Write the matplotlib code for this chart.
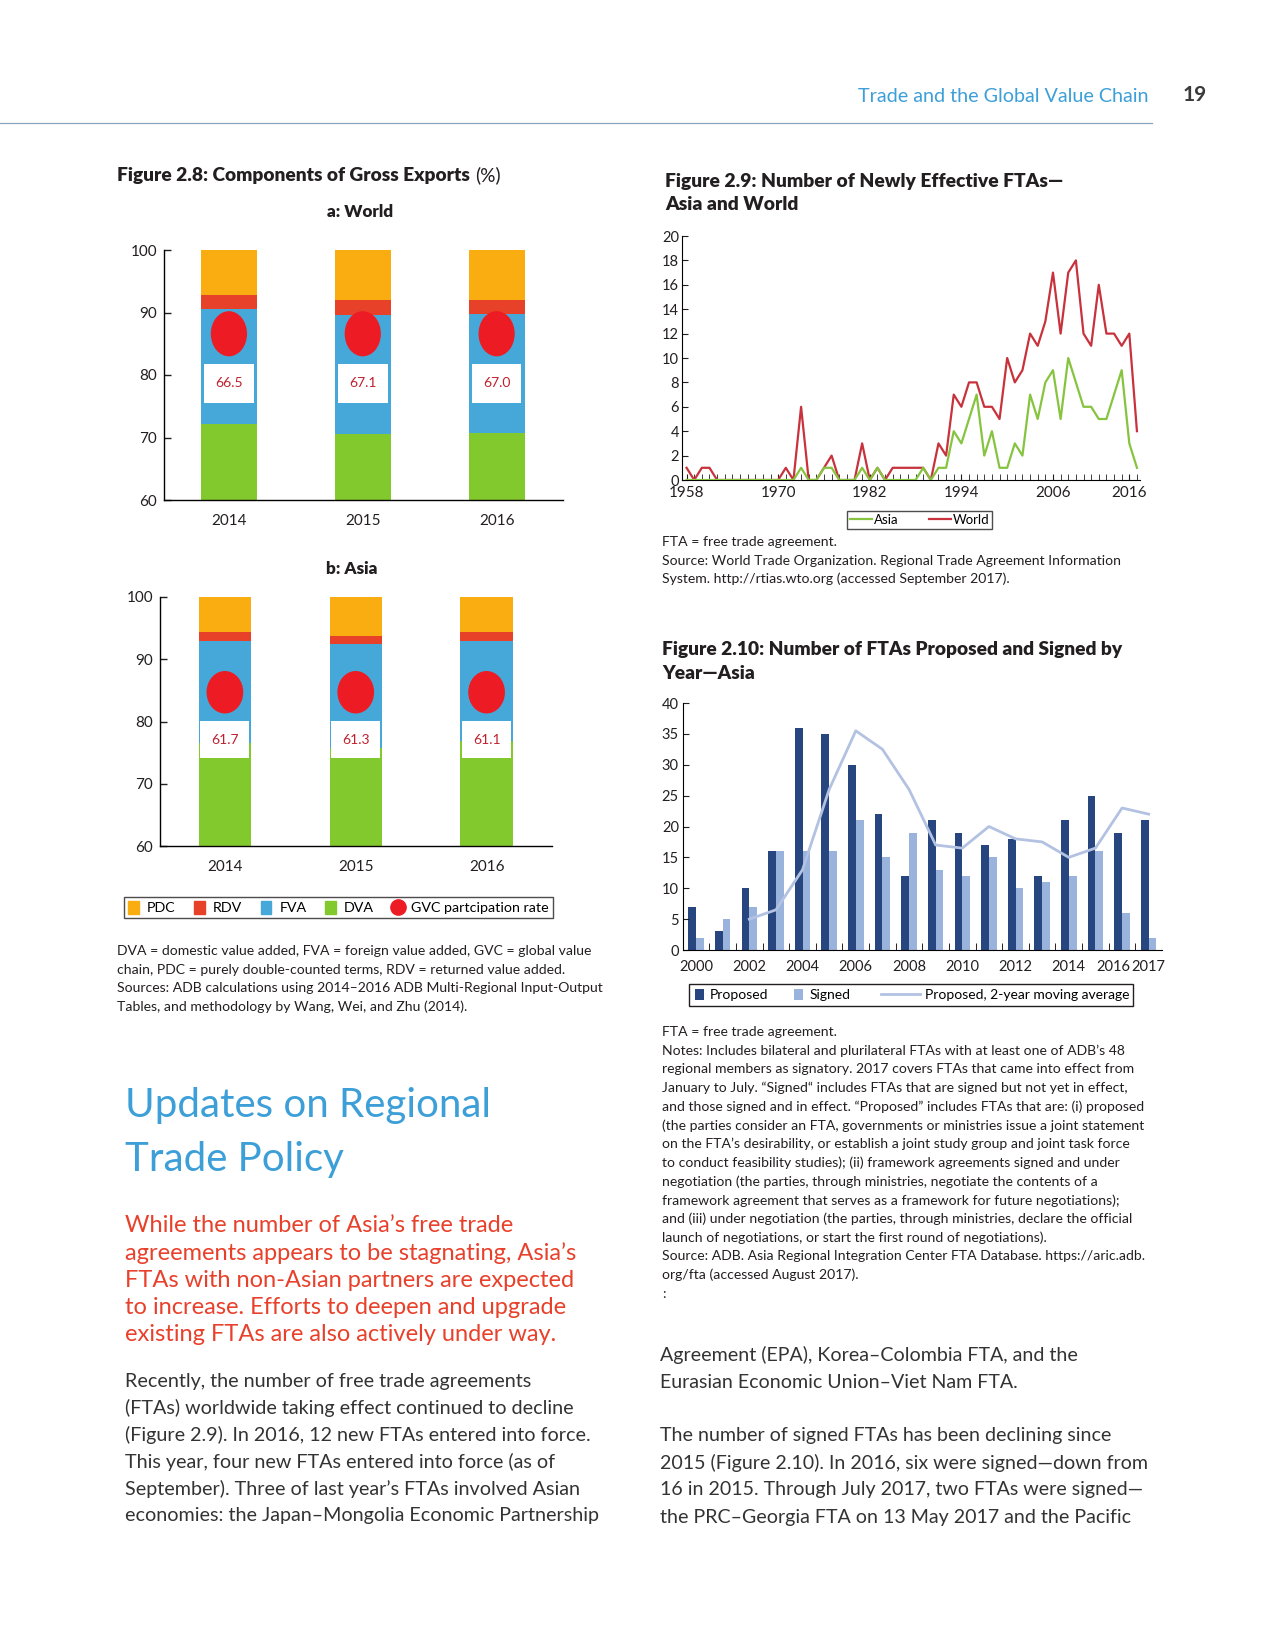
import matplotlib
matplotlib.use("Agg")
import matplotlib.pyplot as plt
from matplotlib.patches import Rectangle, Ellipse, Patch
from matplotlib.lines import Line2D
from matplotlib.transforms import ScaledTranslation

plt.rcParams['font.family'] = ['Lato', 'DejaVu Sans']

# ---- Figure 2.8 data (percent of gross exports) ----
gx_years = ['2014', '2015', '2016']
world_dva = [72.2, 70.6, 70.7]
world_fva = [18.4, 19.0, 19.1]
world_rdv = [2.2, 2.4, 2.2]
world_pdc = [7.2, 8.0, 8.0]
world_gvc = ['66.5', '67.1', '67.0']

asia_dva = [76.6, 75.8, 76.8]
asia_fva = [16.4, 16.7, 16.2]
asia_rdv = [1.3, 1.3, 1.3]
asia_pdc = [5.7, 6.2, 5.7]
asia_gvc = ['61.7', '61.3', '61.1']

# ---- Figure 2.9 data (newly effective FTAs) ----
fta_years = list(range(1958, 2018))
fta_world = [1, 0, 1, 1, 0, 0, 0, 0, 0, 0, 0, 0,
             0, 1, 0, 6, 0, 0, 1, 2, 0, 0,
             0, 3, 0, 1, 0, 1, 1, 1, 1, 1,
             0, 3, 2, 7, 6, 8, 8, 6, 6, 5,
             10, 8, 9, 12, 11, 13, 17, 12, 17, 18,
             12, 11, 16, 12, 12, 11, 12, 4]
fta_asia = [0, 0, 0, 0, 0, 0, 0, 0, 0, 0, 0, 0,
            0, 0, 0, 1, 0, 0, 1, 1, 0, 0,
            0, 1, 0, 1, 0, 0, 0, 0, 0, 1,
            0, 1, 1, 4, 3, 5, 7, 2, 4, 1,
            1, 3, 2, 7, 5, 8, 9, 5, 10, 8,
            6, 6, 5, 5, 7, 9, 3, 1]
fta_ticks = [1958, 1970, 1982, 1994, 2006, 2016]

# ---- Figure 2.10 data (FTAs proposed / signed, Asia) ----
ps_years = ['2000', '2001', '2002', '2003', '2004', '2005', '2006', '2007', '2008',
            '2009', '2010', '2011', '2012', '2013', '2014', '2015', '2016', '2017']
proposed = [7, 3, 10, 16, 36, 35, 30, 22, 12, 21, 19, 17, 18, 12, 21, 25, 19, 21]
signed = [2, 5, 7, 16, 16, 16, 21, 15, 19, 13, 12, 15, 10, 11, 12, 16, 6, 2]
ma_years = ps_years[2:]
proposed_ma = [5, 6.5, 13, 26, 35.5, 32.5, 26, 17, 16.5, 20, 18, 17.5, 15, 16.5, 23, 22]
ps_labels = ['2000', '', '2002', '', '2004', '', '2006', '', '2008', '', '2010', '',
             '2012', '', '2014', '', '2016', '2017']

C_PDC, C_RDV, C_FVA, C_DVA, C_GVC = '#f9ad10', '#e8412a', '#46a8d8', '#82c92d', '#ed1c24'
C_PROP, C_SIGN, C_MA = '#27467f', '#9ab3dc', '#b3c2e2'
INK = '#231f20'
BODY = '#333333'
BLUE_HEAD = '#3d9fd8'

W, H = 1275, 1650
fig = plt.figure(figsize=(W / 100, H / 100), dpi=100)
renderer = fig.canvas.get_renderer()


def add_ax(l, t, r, b):
    return fig.add_axes([l / W, 1 - b / H, (r - l) / W, (b - t) / H])


def txt(x, y, s, **kw):
    kw.setdefault('color', INK)
    return fig.text(x / W, 1 - y / H, s, **kw)


def lines(x, y0, dy, rows, **kw):
    for i, r in enumerate(rows):
        txt(x, y0 + i * dy, r, va='center', **kw)


def frame(l, t, r, b):
    fig.add_artist(Rectangle((l / W, 1 - b / H), (r - l) / W, (b - t) / H,
                             transform=fig.transFigure, fill=False, edgecolor=INK, lw=1.0))


# ---- page header ----
txt(858, 97, 'Trade and the Global Value Chain', fontsize=14.2, color=BLUE_HEAD, va='center')
txt(1183, 95, '19', fontsize=15, color='#3a3a3a', va='center', fontweight='bold')
fig.add_artist(Line2D([0, 1152 / W], [1 - 123 / H] * 2, color='#8aa4bd', lw=0.9))


# ---- Figure 2.8 ----
def stacked(ax, dva, fva, rdv, pdc, gvc, width, ell_y, ell_w, ell_h, box_y, box_w, box_h):
    x = list(range(len(gx_years)))
    ax.bar(x, dva, width, color=C_DVA)
    b1 = [d + f for d, f in zip(dva, fva)]
    ax.bar(x, fva, width, bottom=dva, color=C_FVA)
    b2 = [b + r for b, r in zip(b1, rdv)]
    ax.bar(x, rdv, width, bottom=b1, color=C_RDV)
    ax.bar(x, pdc, width, bottom=b2, color=C_PDC)
    for i, g in enumerate(gvc):
        ax.add_patch(Ellipse((i, ell_y), ell_w, ell_h, color=C_GVC, zorder=4))
        ax.add_patch(Rectangle((i - box_w / 2, box_y - box_h / 2), box_w, box_h,
                               facecolor='white', edgecolor='none', zorder=4))
        ax.text(i, box_y, g, ha='center', va='center', fontsize=10, color='#c0202e', zorder=5)
    ax.set_ylim(60, 100)
    ax.set_yticks([60, 70, 80, 90, 100])
    ax.set_xticks(x)
    ax.set_xticklabels(gx_years)
    for s in ['top', 'right']:
        ax.spines[s].set_visible(False)
    ax.spines['left'].set_linewidth(1.0)
    ax.spines['bottom'].set_linewidth(1.0)
    ax.tick_params(axis='y', direction='in', length=5, width=1, pad=5, labelsize=11, colors=INK)
    ax.tick_params(axis='x', length=0, pad=10, labelsize=11, colors=INK)


t = txt(117, 175, 'Figure 2.8: Components of Gross Exports', fontsize=13.8, fontweight='heavy', va='center')
bb = t.get_window_extent(renderer=renderer)
txt(bb.x1 + 5, 175, '(%)', fontsize=13.8, va='center')

txt(360, 212, 'a: World', fontsize=12.3, fontweight='heavy', ha='center', va='center')
ax1 = add_ax(164, 250, 563, 500)
stacked(ax1, world_dva, world_fva, world_rdv, world_pdc, world_gvc, 0.42,
        86.6, 0.26, 7.0, 78.7, 0.37, 6.2)
ax1.set_xlim(-0.485, 2.496)

txt(352, 569, 'b: Asia', fontsize=12.3, fontweight='heavy', ha='center', va='center')
ax2 = add_ax(160, 597, 552, 846)
stacked(ax2, asia_dva, asia_fva, asia_rdv, asia_pdc, asia_gvc, 0.40,
        84.7, 0.27, 6.6, 77.1, 0.374, 5.95)
ax2.set_xlim(-0.496, 2.5)

h28 = [Patch(color=C_PDC), Patch(color=C_RDV), Patch(color=C_FVA), Patch(color=C_DVA),
       Line2D([], [], ls='none', marker='o', markersize=11, color=C_GVC)]
fig.legend(h28, ['PDC', 'RDV', 'FVA', 'DVA', 'GVC partcipation rate'], ncol=5,
           loc='center', bbox_to_anchor=(338.5 / W, 1 - 907.5 / H), frameon=True,
           fancybox=False, edgecolor=INK, fontsize=10.3, handlelength=0.75, handleheight=1.0,
           handletextpad=0.55, columnspacing=1.3, borderpad=0.3, borderaxespad=0)

lines(117, 951, 18.6, [
    'DVA = domestic value added, FVA = foreign value added, GVC = global value',
    'chain, PDC = purely double-counted terms, RDV = returned value added.',
    'Sources: ADB calculations using 2014\u20132016 ADB Multi-Regional Input-Output',
    'Tables, and methodology by Wang, Wei, and Zhu (2014).'], fontsize=10.1)

# ---- Figure 2.9 ----
txt(665, 182, 'Figure 2.9: Number of Newly Effective FTAs\u2014', fontsize=13.9, fontweight='heavy', va='center')
txt(665, 205, 'Asia and World', fontsize=13.9, fontweight='heavy', va='center')
ax3 = add_ax(682, 236, 1140, 480)
ax3.plot(fta_years, fta_asia, color='#86c440', lw=1.6, label='Asia', zorder=3)
ax3.plot(fta_years, fta_world, color='#c8323c', lw=1.6, label='World', zorder=2)
ax3.set_xlim(1957.4, 2017.4)
ax3.set_ylim(0, 20)
ax3.set_yticks(range(0, 21, 2))
ax3.set_xticks(fta_ticks)
ax3.set_xticks(fta_years, minor=True)
for s in ['top', 'right']:
    ax3.spines[s].set_visible(False)
ax3.tick_params(axis='y', direction='in', length=4, pad=2, labelsize=10.5, colors=INK)
ax3.tick_params(axis='x', which='both', direction='in', length=4, pad=4, labelsize=11, colors=INK)
fig.legend(*ax3.get_legend_handles_labels(), ncol=2, loc='center',
           bbox_to_anchor=(919.5 / W, 1 - 520 / H), frameon=True, fancybox=False,
           edgecolor=INK, fontsize=9.5, handlelength=1.7, handletextpad=0.1,
           columnspacing=2.3, borderpad=0.2, borderaxespad=0)

lines(662, 542, 18.6, [
    'FTA = free trade agreement.',
    'Source: World Trade Organization. Regional Trade Agreement Information',
    'System. http://rtias.wto.org (accessed September 2017).'], fontsize=10.1)

# ---- Figure 2.10 ----
txt(662, 650, 'Figure 2.10: Number of FTAs Proposed and Signed by', fontsize=13.8, fontweight='heavy', va='center')
txt(662, 673, 'Year\u2014Asia', fontsize=13.8, fontweight='heavy', va='center')
ax4 = add_ax(683, 703, 1162, 950)
xi = list(range(len(ps_years)))
bw = 0.29
ax4.bar([i - bw / 2 for i in xi], proposed, bw, color=C_PROP, label='Proposed')
ax4.bar([i + bw / 2 for i in xi], signed, bw, color=C_SIGN, label='Signed')
ax4.plot([ps_years.index(y) for y in ma_years], proposed_ma, color=C_MA, lw=2,
         label='Proposed, 2-year moving average')
ax4.set_xlim(-0.49, 17.5)
ax4.set_ylim(0, 40)
ax4.set_yticks(range(0, 41, 5))
ax4.set_xticks(xi)
ax4.set_xticklabels(ps_labels)
ax4.set_xticks([i + 0.5 for i in xi[:-1]], minor=True)
for s in ['top', 'right']:
    ax4.spines[s].set_visible(False)
ax4.tick_params(axis='y', direction='in', length=4, pad=3, labelsize=10.5, colors=INK)
ax4.tick_params(axis='x', which='major', length=0, pad=7, labelsize=10.5, colors=INK)
ax4.tick_params(axis='x', which='minor', direction='in', length=5)
# pull the crowded 2016 label a little to the left, as in the source layout
lab16 = ax4.get_xticklabels()[ps_years.index('2016')]
lab16.set_transform(lab16.get_transform() + ScaledTranslation(-0.09, 0, fig.dpi_scale_trans))

# legend: squares and a long line sample inside one frame
frame(689, 984, 1133, 1006)
h, l = ax4.get_legend_handles_labels()
fig.legend([h[1], h[2]], [l[1], l[2]], ncol=2, loc='center left',
           bbox_to_anchor=(695 / W, 1 - 995 / H), frameon=False, fontsize=10,
           handlelength=0.65, handleheight=0.8, handletextpad=0.4, columnspacing=1.9,
           borderpad=0, borderaxespad=0)
fig.legend([h[0]], [l[0]], loc='center left', bbox_to_anchor=(881 / W, 1 - 995 / H),
           frameon=False, fontsize=10, handlelength=2.8, handletextpad=0.35,
           borderpad=0, borderaxespad=0)

lines(662, 1032, 18.7, [
    'FTA = free trade agreement.',
    'Notes: Includes bilateral and plurilateral FTAs with at least one of ADB\u2019s 48',
    'regional members as signatory. 2017 covers FTAs that came into effect from',
    'January to July. \u201cSigned\u201c includes FTAs that are signed but not yet in effect,',
    'and those signed and in effect. \u201cProposed\u201d includes FTAs that are: (i) proposed',
    '(the parties consider an FTA, governments or ministries issue a joint statement',
    'on the FTA\u2019s desirability, or establish a joint study group and joint task force',
    'to conduct feasibility studies); (ii) framework agreements signed and under',
    'negotiation (the parties, through ministries, negotiate the contents of a',
    'framework agreement that serves as a framework for future negotiations);',
    'and (iii) under negotiation (the parties, through ministries, declare the official',
    'launch of negotiations, or start the first round of negotiations).',
    'Source: ADB. Asia Regional Integration Center FTA Database. https://aric.adb.',
    'org/fta (accessed August 2017).',
    ':'], fontsize=10.1)

# ---- body text ----
txt(125, 1105, 'Updates on Regional', fontsize=29, color=BLUE_HEAD, va='center')
txt(125, 1159, 'Trade Policy', fontsize=29, color=BLUE_HEAD, va='center')

lines(125, 1226, 27.2, [
    'While the number of Asia\u2019s free trade',
    'agreements appears to be stagnating, Asia\u2019s',
    'FTAs with non-Asian partners are expected',
    'to increase. Efforts to deepen and upgrade',
    'existing FTAs are also actively under way.'], fontsize=17, color='#e8402a')

lines(125, 1381, 27, [
    'Recently, the number of free trade agreements',
    '(FTAs) worldwide taking effect continued to decline',
    '(Figure 2.9). In 2016, 12 new FTAs entered into force.',
    'This year, four new FTAs entered into force (as of',
    'September). Three of last year\u2019s FTAs involved Asian',
    'economies: the Japan\u2013Mongolia Economic Partnership'], fontsize=14.2, color=BODY)

lines(660, 1355, 27, [
    'Agreement (EPA), Korea\u2013Colombia FTA, and the',
    'Eurasian Economic Union\u2013Viet Nam FTA.'], fontsize=14.1, color=BODY)
lines(660, 1436, 27, [
    'The number of signed FTAs has been declining since',
    '2015 (Figure 2.10). In 2016, six were signed\u2014down from',
    '16 in 2015. Through July 2017, two FTAs were signed\u2014',
    'the PRC\u2013Georgia FTA on 13 May 2017 and the Pacific'], fontsize=14.1, color=BODY)

fig.savefig('out.png', dpi=100, facecolor='white')
